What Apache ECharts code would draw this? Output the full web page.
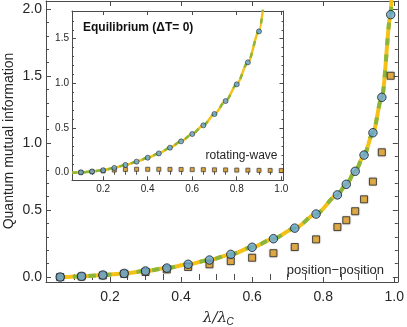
<!DOCTYPE html>
<html>
<head>
<meta charset="utf-8">
<script src="https://cdn.jsdelivr.net/npm/echarts@6/dist/echarts.min.js"></script>
<style>html,body{margin:0;padding:0;background:#fff}#c{width:407px;height:327px}</style>
</head>
<body>
<div id="c"></div>
<script>
// ---- Main panel data (position-position) ----
const mainX = [0.06,0.12,0.18,0.24,0.30,0.36,0.42,0.48,0.54,0.60,0.66,0.72,0.78,0.84,0.865,0.89,0.915,0.94,0.965,0.99];
const mainCircleY = [0,0.005,0.015,0.027,0.045,0.067,0.095,0.127,0.169,0.222,0.286,0.365,0.470,0.613,0.692,0.789,0.910,1.077,1.341,1.958];
const mainSquareY = [0,0.004,0.012,0.024,0.038,0.057,0.075,0.095,0.119,0.144,0.178,0.224,0.281,0.373,0.424,0.491,0.580,0.712,0.931,1.502];
const mainCurveX = [0.05,0.06,0.12,0.18,0.24,0.30,0.36,0.42,0.48,0.54,0.60,0.66,0.72,0.78,0.84,0.865,0.89,0.915,0.94,0.965,0.99,0.994];
const mainCurveY = [0,0,0.005,0.015,0.027,0.045,0.067,0.095,0.127,0.169,0.222,0.286,0.365,0.470,0.613,0.692,0.789,0.910,1.077,1.341,1.958,2.2];

// ---- Inset data (rotating-wave, equilibrium) ----
const insetCircleX = [0.10,0.15,0.20,0.25,0.30,0.35,0.40,0.45,0.50,0.55,0.60,0.65,0.70,0.75,0.80,0.85,0.90];
const insetCircleY = [0.004,0.014,0.028,0.054,0.087,0.124,0.168,0.216,0.280,0.351,0.433,0.530,0.657,0.802,0.989,1.235,1.582];
const insetSquareX = [0.10,0.15,0.20,0.25,0.30,0.35,0.40,0.45,0.50,0.55,0.60,0.65,0.70,0.75,0.80,0.85,0.90,0.95,1.00];
const insetSquareY = [0.003,0.011,0.020,0.030,0.036,0.038,0.038,0.038,0.037,0.036,0.035,0.034,0.032,0.031,0.029,0.028,0.026,0.025,0.024];
const insetCurveX = [0.06,0.10,0.15,0.20,0.25,0.30,0.35,0.40,0.45,0.50,0.55,0.60,0.65,0.70,0.75,0.80,0.85,0.90,0.93];
const insetCurveY = [0,0.004,0.014,0.028,0.054,0.087,0.124,0.168,0.216,0.280,0.351,0.433,0.530,0.657,0.802,0.989,1.235,1.582,2.1];

// ---- Ticks ----
const mainXMajor = [0.2,0.4,0.6,0.8,1.0];
const mainXMinor = [0.05,0.1,0.15,0.25,0.3,0.35,0.45,0.5,0.55,0.65,0.7,0.75,0.85,0.9,0.95];
const mainYMajor = [0,0.5,1.0,1.5,2.0];
const mainYMinor = [0.1,0.2,0.3,0.4,0.6,0.7,0.8,0.9,1.1,1.2,1.3,1.4,1.6,1.7,1.8,1.9];
const insetXMajor = [0.2,0.4,0.6,0.8,1.0];
const insetXMinor = [0.1,0.15,0.25,0.3,0.35,0.45,0.5,0.55,0.65,0.7,0.75,0.85,0.9,0.95];
const insetYMajor = [0,0.5,1.0,1.5];
const insetYMinor = [0.1,0.2,0.3,0.4,0.6,0.7,0.8,0.9,1.1,1.2,1.3,1.4,1.6,1.7];

const pairs = (xs, ys) => xs.map((x, i) => [x, ys[i]]);

const FRAME = '#4a4a4a';
const TXT = '#262626';
const YELLOW = '#f5c116';
const GREEN = '#8ab63b';
const BLUE = '#62a6da';
const ORANGE = '#e3a023';

const xAxes = [], yAxes = [];
function frame(grid, xr, yr, xMaj, xMin, yMaj, yMin, fs, majLen, minLen, xm, ym) {
  const base = {gridIndex: grid, splitLine: {show: false}, minorTick: {show: false}};
  const lbl = {fontSize: fs, color: TXT, fontFamily: 'Liberation Sans, Arial, sans-serif', formatter: v => Number(v).toFixed(1), showMinLabel: true, showMaxLabel: true};
  const idx0 = xAxes.length;
  ['bottom', 'top'].forEach((pos, k) => {
    xAxes.push(Object.assign({}, base, {type: 'value', position: pos, min: xr[0], max: xr[1],
      axisLine: {show: true, onZero: false, lineStyle: {color: FRAME, width: 1}},
      axisTick: {show: true, inside: true, length: majLen, customValues: xMaj, lineStyle: {color: FRAME, width: 1}},
      axisLabel: k === 0 ? Object.assign({show: true, margin: xm, customValues: xMaj}, lbl) : {show: false}}));
    xAxes.push(Object.assign({}, base, {type: 'value', position: pos, min: xr[0], max: xr[1],
      axisLine: {show: false},
      axisTick: {show: true, inside: true, length: minLen, customValues: xMin, lineStyle: {color: FRAME, width: 1}},
      axisLabel: {show: false}}));
  });
  const idy0 = yAxes.length;
  ['left', 'right'].forEach((pos, k) => {
    yAxes.push(Object.assign({}, base, {type: 'value', position: pos, min: yr[0], max: yr[1],
      axisLine: {show: true, onZero: false, lineStyle: {color: FRAME, width: 1}},
      axisTick: {show: true, inside: true, length: majLen, customValues: yMaj, lineStyle: {color: FRAME, width: 1}},
      axisLabel: k === 0 ? Object.assign({show: true, margin: ym, customValues: yMaj}, lbl) : {show: false}}));
    yAxes.push(Object.assign({}, base, {type: 'value', position: pos, min: yr[0], max: yr[1],
      axisLine: {show: false},
      axisTick: {show: true, inside: true, length: minLen, customValues: yMin, lineStyle: {color: FRAME, width: 1}},
      axisLabel: {show: false}}));
  });
  return [idx0, idy0];
}

const [mx, my] = frame(0, [0.02, 1.01], [-0.037, 2.06], mainXMajor, mainXMinor, mainYMajor, mainYMinor, 14, 5, 3, 8, 4);
const [ix, iy] = frame(1, [0.06, 1.01], [-0.085, 1.81], insetXMajor, insetXMinor, insetYMajor, insetYMinor, 10, 4, 2, 4, 3);

function curves(xi, yi, xs, ys, w, dash) {
  const d = pairs(xs, ys);
  return [
    {type: 'line', xAxisIndex: xi, yAxisIndex: yi, data: d, smooth: 0.3, smoothMonotone: 'x', symbol: 'none',
     lineStyle: {color: YELLOW, width: w}, z: 2, silent: true, animation: false},
    {type: 'line', xAxisIndex: xi, yAxisIndex: yi, data: d, smooth: 0.3, smoothMonotone: 'x', symbol: 'none',
     lineStyle: {color: GREEN, width: w, type: dash}, z: 3, silent: true, animation: false}
  ];
}

const series = [].concat(
  curves(mx, my, mainCurveX, mainCurveY, 4, [7, 9]),
  [{type: 'scatter', xAxisIndex: mx, yAxisIndex: my, data: pairs(mainX, mainSquareY), symbol: 'rect', symbolSize: 7,
    itemStyle: {color: ORANGE, borderColor: '#2a2a2a', borderWidth: 1, shadowColor: 'rgba(0,0,0,0.25)', shadowBlur: 2}, z: 4, animation: false},
   {type: 'scatter', xAxisIndex: mx, yAxisIndex: my, data: pairs(mainX, mainCircleY), symbol: 'circle', symbolSize: 8.5,
    itemStyle: {color: BLUE, borderColor: '#1a1a1a', borderWidth: 1}, z: 5, animation: false}],
  curves(ix, iy, insetCurveX, insetCurveY, 2.5, [5, 7]),
  [{type: 'scatter', xAxisIndex: ix, yAxisIndex: iy, data: pairs(insetSquareX, insetSquareY), symbol: 'rect', symbolSize: 4,
    itemStyle: {color: ORANGE, borderColor: '#2a2a2a', borderWidth: 0.7, shadowColor: 'rgba(0,0,0,0.25)', shadowBlur: 1.5}, z: 4, animation: false},
   {type: 'scatter', xAxisIndex: ix, yAxisIndex: iy, data: pairs(insetCircleX, insetCircleY), symbol: 'circle', symbolSize: 5,
    itemStyle: {color: BLUE, borderColor: '#1a1a1a', borderWidth: 0.7}, z: 5, animation: false}]
);

const chart = echarts.init(document.getElementById('c'), null, {renderer: 'canvas'});
chart.setOption({
  backgroundColor: '#fff',
  animation: false,
  grid: [
    {left: 46, top: 1, right: 9, bottom: 45, containLabel: false},
    {left: 72, top: 11, width: 211.5, height: 169.3, containLabel: false, show: true, backgroundColor: '#fff', borderWidth: 0}
  ],
  xAxis: xAxes,
  yAxis: yAxes,
  series: series,
  graphic: [
    {type: 'text', x: 9, y: 141, rotation: Math.PI / 2,
     style: {text: 'Quantum mutual information', fontSize: 14, fill: TXT, fontFamily: 'Liberation Sans, Arial, sans-serif', align: 'center', verticalAlign: 'middle'}},
    {type: 'text', x: 215, y: 318,
     style: {text: 'λ/λ', fontSize: 15, fontStyle: 'italic', fill: TXT, fontFamily: 'DejaVu Serif, serif', align: 'center', verticalAlign: 'middle'}},
    {type: 'text', x: 230, y: 322,
     style: {text: 'C', fontSize: 10, fontStyle: 'italic', fill: TXT, fontFamily: 'Liberation Sans, Arial, sans-serif', align: 'center', verticalAlign: 'middle'}},
    {type: 'text', x: 83, y: 27.5, z: 10,
     style: {text: 'Equilibrium (ΔT= 0)', fontSize: 12, fontWeight: 'bold', fill: '#111', fontFamily: 'Liberation Sans, Arial, sans-serif', align: 'left', verticalAlign: 'middle'}},
    {type: 'text', x: 277.5, y: 156, z: 10,
     style: {text: 'rotating-wave', fontSize: 12, fill: TXT, fontFamily: 'Liberation Sans, Arial, sans-serif', align: 'right', verticalAlign: 'middle'}},
    {type: 'text', x: 384, y: 270, z: 10,
     style: {text: 'position−position', fontSize: 13, fill: TXT, fontFamily: 'Liberation Sans, Arial, sans-serif', align: 'right', verticalAlign: 'middle'}}
  ]
});
</script>
</body>
</html>
